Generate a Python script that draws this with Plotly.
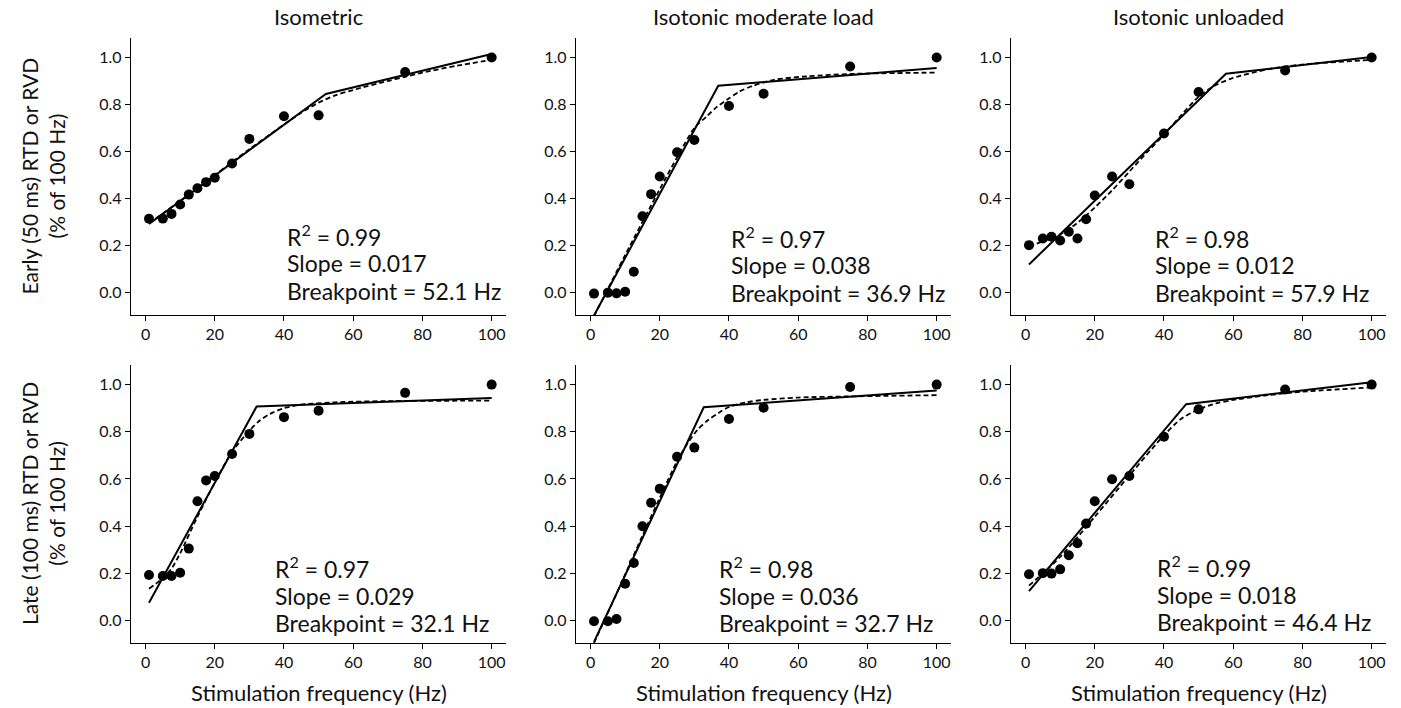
import plotly.graph_objects as go

# Stimulation frequencies (Hz) used for every condition
FREQ_HZ = [1, 5, 7.5, 10, 12.5, 15, 17.5, 20, 25, 30, 40, 50, 75, 100]

# Normalised RTD / RVD (fraction of the 100 Hz value)
EARLY_ISOMETRIC = [0.314, 0.315, 0.335, 0.375, 0.417, 0.444, 0.470, 0.489, 0.549, 0.654, 0.750, 0.754, 0.938, 1.0]
EARLY_MODERATE = [-0.004, 0.0, -0.003, 0.004, 0.089, 0.325, 0.419, 0.494, 0.597, 0.649, 0.794, 0.846, 0.962, 1.0]
EARLY_UNLOADED = [0.202, 0.230, 0.238, 0.222, 0.259, 0.230, 0.312, 0.413, 0.494, 0.461, 0.677, 0.853, 0.945, 1.0]
LATE_ISOMETRIC = [0.193, 0.189, 0.189, 0.203, 0.305, 0.506, 0.594, 0.613, 0.706, 0.791, 0.862, 0.889, 0.965, 1.0]
LATE_MODERATE = [-0.003, -0.003, 0.007, 0.156, 0.244, 0.400, 0.499, 0.559, 0.694, 0.733, 0.854, 0.902, 0.990, 1.0]
LATE_UNLOADED = [0.196, 0.201, 0.199, 0.217, 0.277, 0.328, 0.411, 0.506, 0.599, 0.613, 0.779, 0.895, 0.979, 1.0]

# Fit statistics per panel (row-major: early row, then late row)
R2 = ["0.99", "0.97", "0.98", "0.97", "0.98", "0.99"]
SLOPE = ["0.017", "0.038", "0.012", "0.029", "0.036", "0.018"]
BREAKPOINT_HZ = [52.1, 36.9, 57.9, 32.1, 32.7, 46.4]

# Two-segment regression: fitted value at 1 Hz, at the breakpoint and at 100 Hz
SEG_Y_START = [0.292, -0.097, 0.120, 0.076, -0.090, 0.125]
SEG_Y_BREAK = [0.845, 0.880, 0.931, 0.907, 0.904, 0.917]
SEG_Y_END = [1.015, 0.955, 1.002, 0.943, 0.975, 1.010]

# Curvilinear fits, sampled along frequency
CURVE_EARLY_ISOMETRIC_X = [1, 10, 20, 30, 40, 45, 50, 55, 60, 70, 75, 80, 90, 100]
CURVE_EARLY_ISOMETRIC_Y = [0.295, 0.39, 0.50, 0.61, 0.715, 0.765, 0.808, 0.840, 0.862, 0.900, 0.918, 0.936, 0.965, 0.990]
CURVE_EARLY_MODERATE_X = [1, 10, 20, 25, 30, 33.6, 36.5, 39.4, 43, 47, 53, 62.6, 75, 100]
CURVE_EARLY_MODERATE_Y = [-0.10, 0.16, 0.44, 0.575, 0.70, 0.75, 0.79, 0.82, 0.855, 0.88, 0.905, 0.92, 0.93, 0.936]
CURVE_EARLY_UNLOADED_X = [1, 5, 10, 15, 20, 25, 30, 35, 40, 45, 50, 55, 60, 70, 80, 100]
CURVE_EARLY_UNLOADED_Y = [0.198, 0.218, 0.248, 0.297, 0.362, 0.435, 0.515, 0.595, 0.672, 0.755, 0.833, 0.883, 0.913, 0.950, 0.970, 0.990]
CURVE_LATE_ISOMETRIC_X = [1, 5, 7.5, 10, 15, 20, 25, 30, 33, 36, 40, 45, 55, 70, 100]
CURVE_LATE_ISOMETRIC_Y = [0.135, 0.18, 0.22, 0.285, 0.44, 0.585, 0.715, 0.805, 0.848, 0.876, 0.90, 0.915, 0.925, 0.93, 0.932]
CURVE_LATE_MODERATE_X = [1, 10, 15, 20, 25, 28, 31, 34, 37, 40, 45, 50, 60, 75, 100]
CURVE_LATE_MODERATE_Y = [-0.095, 0.195, 0.36, 0.52, 0.675, 0.75, 0.81, 0.85, 0.88, 0.905, 0.925, 0.935, 0.945, 0.95, 0.955]
CURVE_LATE_UNLOADED_X = [1, 10, 20, 30, 40, 45, 50, 55, 60, 70, 80, 100]
CURVE_LATE_UNLOADED_Y = [0.148, 0.27, 0.44, 0.615, 0.785, 0.855, 0.895, 0.92, 0.935, 0.955, 0.97, 0.988]

COLUMN_TITLES = ["Isometric", "Isotonic moderate load", "Isotonic unloaded"]
ROW_LABELS = ["Early (50 ms) RTD or RVD<br>(% of 100 Hz)", "Late (100 ms) RTD or RVD<br>(% of 100 Hz)"]
X_LABEL = "Stimulation frequency (Hz)"
X_TICKS = [0, 20, 40, 60, 80, 100]
Y_TICKS = [0.0, 0.2, 0.4, 0.6, 0.8, 1.0]

POINTS = [EARLY_ISOMETRIC, EARLY_MODERATE, EARLY_UNLOADED,
          LATE_ISOMETRIC, LATE_MODERATE, LATE_UNLOADED]
CURVES = [(CURVE_EARLY_ISOMETRIC_X, CURVE_EARLY_ISOMETRIC_Y),
          (CURVE_EARLY_MODERATE_X, CURVE_EARLY_MODERATE_Y),
          (CURVE_EARLY_UNLOADED_X, CURVE_EARLY_UNLOADED_Y),
          (CURVE_LATE_ISOMETRIC_X, CURVE_LATE_ISOMETRIC_Y),
          (CURVE_LATE_MODERATE_X, CURVE_LATE_MODERATE_Y),
          (CURVE_LATE_UNLOADED_X, CURVE_LATE_UNLOADED_Y)]

W, H = 1401, 708
FONT = "Lato, 'Open Sans', sans-serif"
INK = "#111111"

# panel placement in pixels
COL_PX = [(131, 505.5), (576, 950.5), (1011, 1385.5)]
ROW_PX = [(38, 315), (365, 643)]
X_RANGE = [-4.2, 104]
Y_RANGE = [-0.095, 1.083]

# stats text: left edge (Hz) and y of the bottom line for each panel
TEXT_X = [40.3, 40.1, 36.7, 36.7, 36.5, 37.4]
TEXT_Y0 = [0.008, 0.0, 0.0, -0.012, -0.012, -0.008]
LINE_STEP = 0.118

fig = go.Figure()
layout = dict(width=W, height=H, margin=dict(l=0, r=0, t=0, b=0),
              plot_bgcolor="white", paper_bgcolor="white", showlegend=False,
              font=dict(family=FONT, color=INK))
annotations = []

for i in range(6):
    r, c = divmod(i, 3)
    suffix = "" if i == 0 else str(i + 1)
    xref, yref = "x" + suffix, "y" + suffix
    x0, x1 = COL_PX[c]
    y0, y1 = ROW_PX[r]
    axis_common = dict(showline=True, linecolor="black", linewidth=1.3,
                       ticks="outside", ticklen=5, tickwidth=1.3, tickcolor="black",
                       showgrid=False, zeroline=False, mirror=False,
                       tickfont=dict(family=FONT, size=16, color=INK))
    layout["xaxis" + suffix] = dict(axis_common, domain=[x0 / W, x1 / W], range=X_RANGE,
                                    tickvals=X_TICKS, anchor=yref)
    layout["yaxis" + suffix] = dict(axis_common, domain=[1 - y1 / H, 1 - y0 / H], range=Y_RANGE,
                                    tickvals=Y_TICKS, tickformat=".1f", anchor=xref)

    bp = BREAKPOINT_HZ[i]
    fig.add_trace(go.Scatter(x=[FREQ_HZ[0], bp, FREQ_HZ[-1]],
                             y=[SEG_Y_START[i], SEG_Y_BREAK[i], SEG_Y_END[i]],
                             mode="lines", line=dict(color="black", width=2),
                             xaxis=xref, yaxis=yref, cliponaxis=True))
    cx, cy = CURVES[i]
    fig.add_trace(go.Scatter(x=cx, y=cy, mode="lines",
                             line=dict(color="black", width=1.8, dash="5px,3px",
                                       shape="spline", smoothing=0.8),
                             xaxis=xref, yaxis=yref))
    fig.add_trace(go.Scatter(x=FREQ_HZ, y=POINTS[i], mode="markers",
                             marker=dict(color="black", size=10),
                             xaxis=xref, yaxis=yref, cliponaxis=False))

    lines = ["R<sup>2</sup> = " + R2[i], "Slope = " + SLOPE[i],
             "Breakpoint = " + f"{bp:.1f}" + " Hz"]
    for k, txt in enumerate(lines):
        annotations.append(dict(x=TEXT_X[i], y=TEXT_Y0[i] + LINE_STEP * (2 - k),
                                xref=xref, yref=yref, text=txt, showarrow=False,
                                xanchor="left", yanchor="middle",
                                font=dict(family=FONT, size=23, color=INK)))

for c, title in enumerate(COLUMN_TITLES):
    x0, x1 = COL_PX[c]
    cx = x0 + (50 - X_RANGE[0]) / (X_RANGE[1] - X_RANGE[0]) * (x1 - x0)
    annotations.append(dict(x=cx / W, y=1 - 17 / H, xref="paper", yref="paper",
                            text=title, showarrow=False, xanchor="center", yanchor="middle",
                            font=dict(family=FONT, size=22, color=INK)))
    annotations.append(dict(x=cx / W, y=1 - 692 / H, xref="paper", yref="paper",
                            text=X_LABEL, showarrow=False, xanchor="center", yanchor="middle",
                            font=dict(family=FONT, size=22, color=INK)))

for r, label in enumerate(ROW_LABELS):
    y0, y1 = ROW_PX[r]
    annotations.append(dict(x=43 / W, y=1 - (y0 + y1) / 2 / H, xref="paper", yref="paper",
                            text=label, showarrow=False, textangle=-90,
                            xanchor="center", yanchor="middle",
                            font=dict(family=FONT, size=21, color=INK)))

layout["annotations"] = annotations
fig.update_layout(**layout)
fig.write_html("out.html")
